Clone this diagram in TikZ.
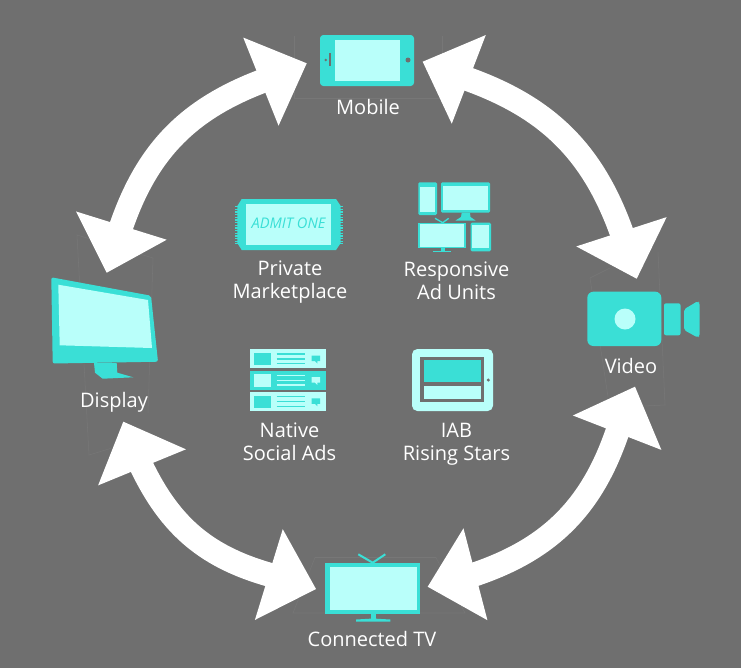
\documentclass[tikz,border=0pt]{standalone}
\usepackage{fontspec}
\setmainfont{Open Sans}
\usepackage{xcolor}
\usetikzlibrary{arrows.meta}
\definecolor{bggray}{HTML}{6F6F6F}
\definecolor{framegray}{HTML}{777777}
\definecolor{teal}{HTML}{3ADFD6}
\definecolor{aqua}{HTML}{B9FFFA}

\begin{document}
\begin{tikzpicture}[x=0.75pt, y=-0.75pt,
    every node/.style={white, font=\fontsize{15}{17.25}\selectfont, align=center},
    ringshaft/.style={white, line width=18pt, shorten <=-4pt, shorten >=-4pt},
    ringhead/.style={white, line width=1pt, -{Triangle[length=37pt,width=71pt]}},
    frameline/.style={framegray, line width=0.4pt},
    body/.style={fill=teal},
    screen/.style={fill=aqua}]
    \useasboundingbox (0,0) rectangle (741,668);
    \fill [bggray] (0,0) rectangle (741,668);

    % thin guides behind the outer icons
    \draw [frameline] (294,36) -- (294,98) -- (442,98) -- (442,36);
    \draw [frameline] (315,557.5) -- (436,557.5) -- (465,613) -- (293,613) -- cycle;
    \draw [frameline] (112,448) -- (89,455) -- (77,235) -- (153,258) -- (148,413);
    \draw [frameline] (610,268) -- (590,278) -- (608,397);
    \draw [frameline] (658,252) -- (665,405) -- (643,406);

    % ends of the ring: tip and the back of its head
    \coordinate (mobile-w) at (306.7,63.3);
    \coordinate (mobile-w-back) at (263,80.8);
    \coordinate (display-n) at (106.7,272.7);
    \coordinate (display-n-back) at (120.5,228.4);
    \coordinate (mobile-e) at (422.7,61.7);
    \coordinate (mobile-e-back) at (468.3,79.2);
    \coordinate (video-n) at (636.7,278.7);
    \coordinate (video-n-back) at (622.2,234);
    \coordinate (video-s) at (635,386.7);
    \coordinate (video-s-back) at (617.2,432.5);
    \coordinate (tv-e) at (427.7,586.7);
    \coordinate (tv-e-back) at (474.5,574.5);
    \coordinate (display-s) at (123.3,421.7);
    \coordinate (display-s-back) at (142.3,468);
    \coordinate (tv-w) at (316,589);
    \coordinate (tv-w-back) at (271,575.2);

    \draw [ringshaft] (mobile-w-back) to[bend right=26] (display-n-back);
    \draw [ringshaft] (mobile-e-back) to[bend left=26] (video-n-back);
    \draw [ringshaft] (video-s-back) to[bend left=27] (tv-e-back);
    \draw [ringshaft] (display-s-back) to[bend right=25] (tv-w-back);
    \foreach \tip in {mobile-w, display-n, mobile-e, video-n, video-s, tv-e, display-s, tv-w}
      \draw [ringhead] (\tip-back) -- (\tip);

    % mobile
    \fill [body, rounded corners=2.5pt] (320,35) rectangle (414,86);
    \fill [screen] (334.5,40) rectangle (400,80.5);
    \fill [bggray] (408,60) circle (2.5*0.75pt);
    \fill [bggray] (325.7,60) circle (1.3*0.75pt);
    \fill [bggray] (329,53) rectangle (330.5,66);
    \node (mobile) at (368,107) {Mobile};

    % display
    \fill [body, rounded corners=1.5pt] (51.3,277.3) -- (151,295.7) -- (158,361.7) -- (52.7,363.5) -- cycle;
    \fill [body] (94,363) -- (95,372.7) -- (102.7,378.7) -- (133.3,377.3) -- (117.3,372.7) -- (116.7,363) -- cycle;
    \fill [screen] (58.3,284.7) -- (148,300) -- (152,348) -- (59.7,345.3) -- cycle;
    \node (display) at (114,402) {Display};

    % video
    \fill [body, rounded corners=4.5pt] (587.3,291.7) rectangle (661.3,346);
    \fill [screen] (625,319) circle (10.5*0.75pt);
    \fill [body, rounded corners=1.5pt] (664,303.3) rectangle (680.5,335.3);
    \fill [body, rounded corners=1.5pt] (684,309.3) -- (698,301) -- (699.7,303) -- (699.7,336) -- (698,337.7) -- (684,330) -- cycle;
    \node (video) at (631,366) {Video};

    % connected tv
    \draw [teal, line width=1.5pt] (358.3,554.3) -- (372.7,562.7) -- (385.3,554.3);
    \fill [body] (325.3,562.7) rectangle (420,614);
    \fill [screen] (329.5,566.5) rectangle (416.5,610);
    \fill [body] (370.7,614) rectangle (376,619);
    \fill [body] (356,619.5) -- (373,618.5) -- (390.3,619.5) -- (390.3,621.5) -- (356,621.5) -- cycle;
    \node (tv) at (372,639) {Connected TV};

    % ticket
    \fill [body] (241.7,199) -- (336,199) -- (340.7,206) -- (340.7,243) -- (336,250) -- (241.7,250) -- (237.3,243) -- (237.3,206) -- cycle;
    \draw [teal, line width=2pt, dash pattern=on 1pt off 1pt] (236.5,206) -- (236.5,244);
    \draw [teal, line width=2pt, dash pattern=on 1pt off 1pt] (341.5,206) -- (341.5,244);
    \fill [screen] (246,203.7) rectangle (330.7,245);
    \node [teal, font=\fontsize{11}{13}\selectfont\itshape] (admit) at (288.5,223) {ADMIT ONE};
    \node (private) at (290,282.5) {Private\\Marketplace};

    % responsive set of devices
    \fill [body, rounded corners=1pt] (418.3,182.3) rectangle (437,215);
    \fill [screen] (420,187) rectangle (435.3,211.7);
    \fill [body, rounded corners=1pt] (441,182.3) rectangle (490,212.7);
    \fill [screen] (443.3,186) rectangle (488.3,209.7);
    \fill [body] (461.7,212.7) -- (470,212.7) -- (470.5,217) -- (475.5,220.5) -- (455.5,220.5) -- (461,217) -- cycle;
    \draw [teal, line width=1pt] (435,218.3) -- (442.7,222.7) -- (448.7,218.3);
    \fill [body] (418.3,222.7) rectangle (465.7,248.3);
    \fill [screen] (420,224.3) rectangle (464,246.7);
    \fill [body] (441,248.3) rectangle (444.7,251);
    \fill [body] (433.3,250.5) rectangle (450.7,252);
    \fill [body, rounded corners=1pt] (470.7,222.7) rectangle (491,251.3);
    \fill [screen] (472.3,225) rectangle (489.3,248.3);
    \node (responsive) at (456.5,280.5) {Responsive\\Ad Units};

    % native rows
    \foreach \rowtop/\rowfill/\rowink in {349/aqua/teal, 370.5/teal/aqua, 391.8/aqua/teal} {
      \fill [fill=\rowfill] (250,\rowtop) rectangle (326.3,\rowtop+19);
      \fill [fill=\rowink] (254,\rowtop+3.7) rectangle (270.7,\rowtop+16);
      \foreach \liney in {5,10,14.5}
        \draw [\rowink, line width=1pt] (276.7,\rowtop+\liney) -- (305,\rowtop+\liney);
      \fill [fill=\rowink] (311.7,\rowtop+6.5) -- (320,\rowtop+6.5) -- (320,\rowtop+12) -- (317.5,\rowtop+12) -- (317.3,\rowtop+14.5) -- (315,\rowtop+12) -- (311.7,\rowtop+12) -- cycle;
    }
    \node (native) at (289.5,441.5) {Native\\Social Ads};

    % rising stars
    \fill [screen, rounded corners=4pt] (412,349) rectangle (493,411);
    \fill [bggray] (420.3,357) rectangle (484.3,402.3);
    \fill [body] (424,360.3) rectangle (480.7,382.3);
    \fill [screen] (424,385.7) rectangle (480.7,399);
    \fill [bggray] (488.3,380) circle (1.7*0.75pt);
    \node (rising) at (456.5,444.5) {IAB\\Rising Stars};
  \end{tikzpicture}
\end{document}
